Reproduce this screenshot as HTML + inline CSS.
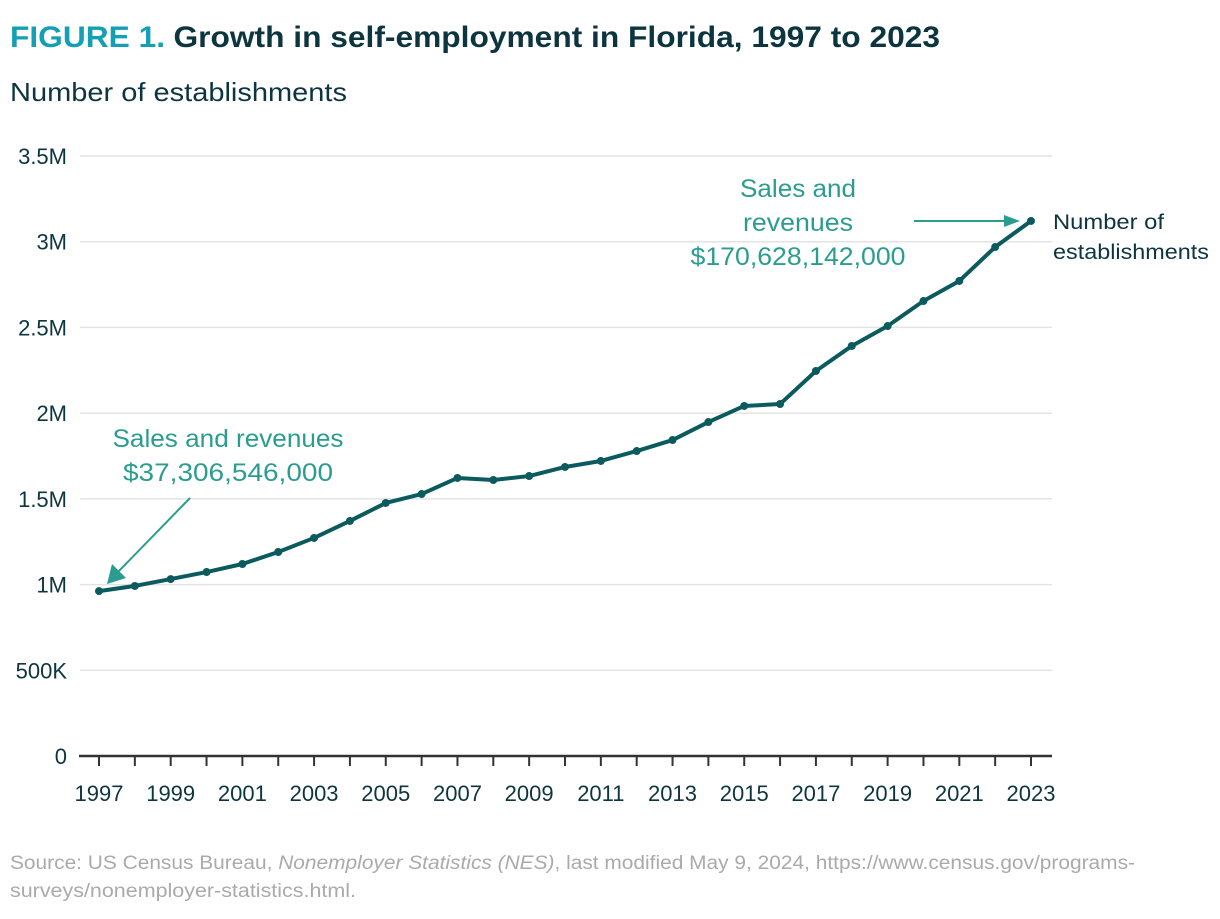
<!DOCTYPE html>
<html><head><meta charset="utf-8">
<style>
body{margin:0;background:#fff;width:1220px;height:914px;overflow:hidden;font-family:"Liberation Sans",sans-serif;}
svg text{font-family:"Liberation Sans",sans-serif;}
</style></head>
<body>
<svg id="chart" width="1220" height="914" xmlns="http://www.w3.org/2000/svg">
<text x="10" y="47" font-size="30" font-weight="bold" textLength="930" lengthAdjust="spacingAndGlyphs"><tspan fill="#14a0b4">FIGURE 1.</tspan><tspan fill="#0d3540" dx="8">Growth in self-employment in Florida, 1997 to 2023</tspan></text>
<text x="10" y="101" font-size="26" fill="#0d3540" textLength="337" lengthAdjust="spacingAndGlyphs">Number of establishments</text>
<g id="grid"></g>
<g id="axes"></g>
<g id="series"></g>
<g fill="#2a9d8f" font-size="25" text-anchor="middle">
<text x="228" y="447" textLength="231" lengthAdjust="spacingAndGlyphs">Sales and revenues</text>
<text x="228" y="481" textLength="210" lengthAdjust="spacingAndGlyphs">$37,306,546,000</text>
<line x1="190" y1="498" x2="118" y2="572" stroke="#2a9d8f" stroke-width="2"/>
<polygon points="107,584 112,564 126,578" fill="#2a9d8f"/>
</g>
<g fill="#2a9d8f" font-size="25" text-anchor="middle">
<text x="798" y="197" textLength="116" lengthAdjust="spacingAndGlyphs">Sales and</text>
<text x="798" y="231" textLength="110" lengthAdjust="spacingAndGlyphs">revenues</text>
<text x="798" y="265" textLength="215" lengthAdjust="spacingAndGlyphs">$170,628,142,000</text>
<line x1="914" y1="221" x2="1008" y2="221" stroke="#2a9d8f" stroke-width="2"/>
<polygon points="1020,221 1004,215 1004,227" fill="#2a9d8f"/>
</g>
<text x="1053" y="229" font-size="21" fill="#0d3540" textLength="111" lengthAdjust="spacingAndGlyphs">Number of</text>
<text x="1053" y="259" font-size="21" fill="#0d3540" textLength="156" lengthAdjust="spacingAndGlyphs">establishments</text>
<text x="10" y="869" font-size="19" fill="#aaaaaa" textLength="1125" lengthAdjust="spacingAndGlyphs">Source: US Census Bureau, <tspan font-style="italic">Nonemployer Statistics (NES)</tspan>, last modified May 9, 2024, https://www.census.gov/programs-</text>
<text x="10" y="897" font-size="19" fill="#aaaaaa" textLength="346" lengthAdjust="spacingAndGlyphs">surveys/nonemployer-statistics.html.</text>
</svg>
<script>
const years=[1997,1998,1999,2000,2001,2002,2003,2004,2005,2006,2007,2008,2009,2010,2011,2012,2013,2014,2015,2016,2017,2018,2019,2020,2021,2022,2023];
const establishments=[962000,992000,1032000,1073000,1120000,1190000,1272000,1371000,1476000,1528000,1622000,1610000,1633000,1686000,1721000,1779000,1843000,1948000,2042000,2053000,2246000,2392000,2508000,2654000,2771000,2969000,3121000];
const yTicks=[0,500000,1000000,1500000,2000000,2500000,3000000,3500000];
const yTickLabels=["0","500K","1M","1.5M","2M","2.5M","3M","3.5M"];
const NS="http://www.w3.org/2000/svg";
const x=v=>99+(v-1997)*(1031-99)/26;
const y=v=>756-v*600/3500000;
function mk(tag,attrs,parent){const e=document.createElementNS(NS,tag);for(const k in attrs)e.setAttribute(k,attrs[k]);parent.appendChild(e);return e;}
const grid=document.getElementById('grid'),axes=document.getElementById('axes'),series=document.getElementById('series');
yTicks.forEach((t,i)=>{
  if(t>0){const l=mk('line',{x1:80,x2:1052,y1:y(t),y2:y(t),stroke:'#e3e3e3','stroke-width':1.5},grid);
  
  }
  const tx=mk('text',{x:67,y:y(t)+8,'font-size':22,fill:'#0d3540','text-anchor':'end'},axes);
  tx.textContent=yTickLabels[i];
  
  
});
const ax=mk('line',{x1:79,x2:1052,y1:756,y2:756,stroke:'#333','stroke-width':2.5},axes);


years.forEach((yr,i)=>{
  const t=mk('line',{x1:x(yr),x2:x(yr),y1:756,y2:766,stroke:'#333','stroke-width':2},axes);
  
  
  if(i%2===0){const tx=mk('text',{x:x(yr),y:801,'font-size':22,fill:'#0d3540','text-anchor':'middle'},axes);
  tx.textContent=yr;
  
  }
});
const pts=years.map((yr,i)=>x(yr)+','+y(establishments[i])).join(' ');
const pl=mk('polyline',{points:pts,fill:'none',stroke:'#0b5a5e','stroke-width':4,'stroke-linejoin':'round'},series);


years.forEach((yr,i)=>{
  const c=mk('circle',{cx:x(yr),cy:y(establishments[i]),r:4,fill:'#0b5a5e'},series);
  
  
});
</script>
</body></html>
